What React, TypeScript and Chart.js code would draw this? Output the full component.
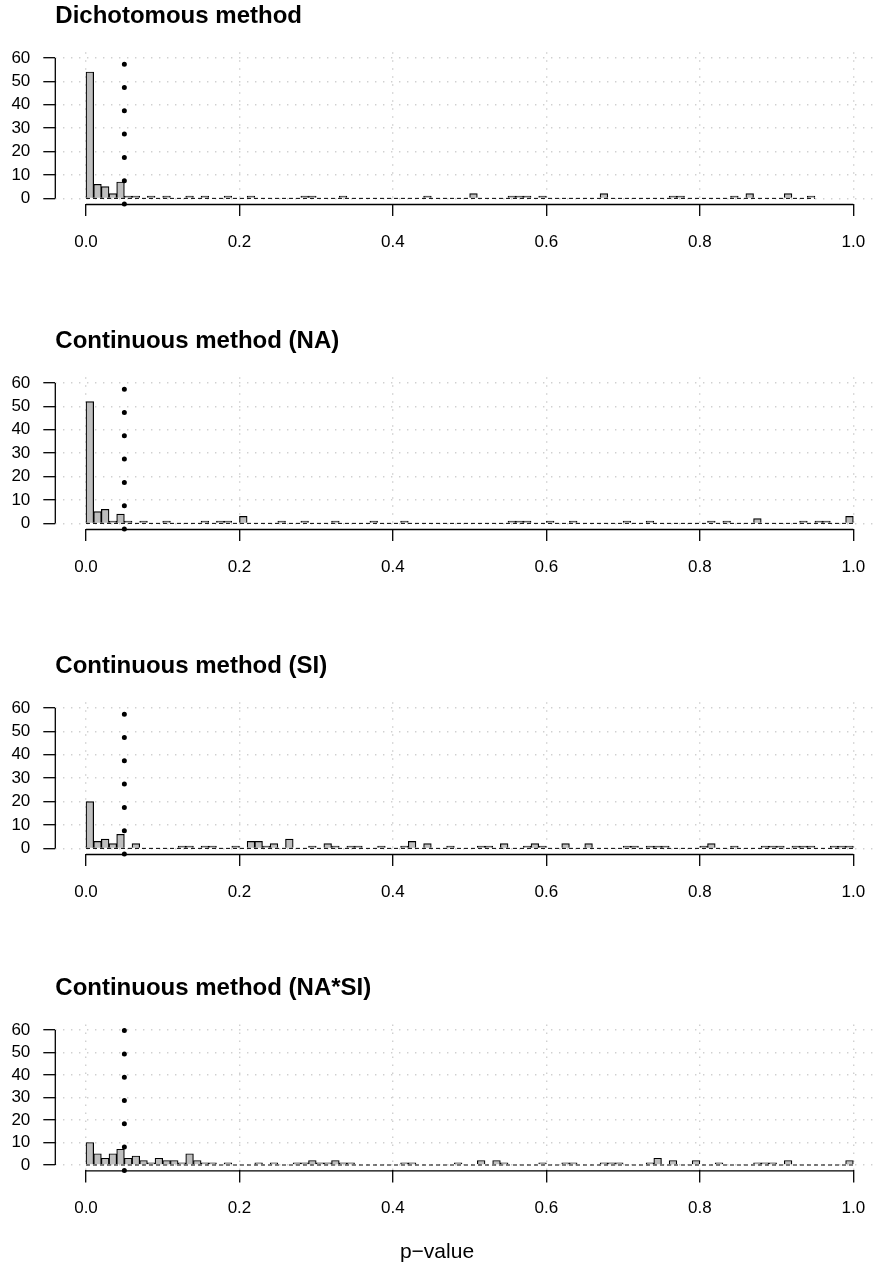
import React, { useEffect, useRef } from "react";
import { Chart, registerables } from "chart.js";

Chart.register(...registerables);

// ---------------- data ----------------
const BIN_WIDTH = 0.01; // histogram break width
const ALPHA = 0.05; // significance cut-off (dotted vertical line)
const X_MIN = -0.04;
const X_MAX = 1.04;
const Y_MIN = -2.4;
const Y_MAX = 62.4;
const X_TICKS = [0, 0.2, 0.4, 0.6, 0.8, 1.0];
const Y_TICKS = [0, 10, 20, 30, 40, 50, 60];
const X_AXIS_LABEL = "p\u2212value";

const PANEL_TITLES = [
  "Dichotomous method",
  "Continuous method (NA)",
  "Continuous method (SI)",
  "Continuous method (NA*SI)",
];

// counts per 0.01-wide bin, starting at p = 0
const COUNTS_DICHOTOMOUS = [
  54, 6, 5, 2, 7, 1, 1, 0, 1, 0,
  1, 0, 0, 1, 0, 1, 0, 0, 1, 0,
  0, 1, 0, 0, 0, 0, 0, 0, 1, 1,
  0, 0, 0, 1, 0, 0, 0, 0, 0, 0,
  0, 0, 0, 0, 1, 0, 0, 0, 0, 0,
  2, 0, 0, 0, 0, 1, 1, 1, 0, 1,
  0, 0, 0, 0, 0, 0, 0, 2, 0, 0,
  0, 0, 0, 0, 0, 0, 1, 1, 0, 0,
  0, 0, 0, 0, 1, 0, 2, 0, 0, 0,
  0, 2, 0, 0, 1,
];

const COUNTS_NA = [
  52, 5, 6, 1, 4, 1, 0, 1, 0, 0,
  1, 0, 0, 0, 0, 1, 0, 1, 1, 0,
  3, 0, 0, 0, 0, 1, 0, 0, 1, 0,
  0, 0, 1, 0, 0, 0, 0, 1, 0, 0,
  0, 1, 0, 0, 0, 0, 0, 0, 0, 0,
  0, 0, 0, 0, 0, 1, 1, 1, 0, 0,
  1, 0, 0, 1, 0, 0, 0, 0, 0, 0,
  1, 0, 0, 1, 0, 0, 0, 0, 0, 0,
  0, 1, 0, 1, 0, 0, 0, 2, 0, 0,
  0, 0, 0, 1, 0, 1, 1, 0, 0, 3,
];

const COUNTS_SI = [
  20, 3, 4, 2, 6, 0, 2, 0, 0, 0,
  0, 0, 1, 1, 0, 1, 1, 0, 0, 1,
  0, 3, 3, 1, 2, 0, 4, 0, 0, 1,
  0, 2, 1, 0, 1, 1, 0, 0, 1, 0,
  0, 1, 3, 0, 2, 0, 0, 1, 0, 0,
  0, 1, 1, 0, 2, 0, 0, 1, 2, 1,
  0, 0, 2, 0, 0, 2, 0, 0, 0, 0,
  1, 1, 0, 1, 1, 1, 0, 0, 0, 0,
  1, 2, 0, 0, 1, 0, 0, 0, 1, 1,
  1, 0, 1, 1, 1, 0, 0, 1, 1, 1,
];

const COUNTS_NA_SI = [
  10, 5, 3, 5, 7, 3, 4, 2, 1, 3,
  2, 2, 1, 5, 2, 1, 1, 0, 1, 0,
  0, 0, 1, 0, 1, 0, 0, 1, 1, 2,
  1, 1, 2, 1, 1, 0, 0, 0, 0, 0,
  0, 1, 1, 0, 0, 0, 0, 0, 1, 0,
  0, 2, 0, 2, 1, 0, 0, 0, 0, 1,
  0, 0, 1, 1, 0, 0, 0, 1, 1, 1,
  0, 0, 0, 1, 3, 0, 2, 0, 0, 2,
  0, 0, 1, 0, 0, 0, 0, 1, 1, 1,
  0, 2, 0, 0, 0, 0, 0, 0, 0, 2,
];

const PANEL_COUNTS = [COUNTS_DICHOTOMOUS, COUNTS_NA, COUNTS_SI, COUNTS_NA_SI];

// ---------------- layout / style ----------------
const FONT = "'Liberation Sans', Arial, Helvetica, sans-serif";
const CANVAS_W = 884;
const Y_AXIS_W = 55.3;
const PANELS_LAYOUT = [
  { top: 0, height: 325, plotTop: 52.3, plotBottom: 204 },
  { top: 325, height: 325, plotTop: 52.3, plotBottom: 204 },
  { top: 650, height: 325, plotTop: 52.3, plotBottom: 204 },
  { top: 975, height: 294, plotTop: 49.6, plotBottom: 195.4 },
];

const rStylePlugin = {
  id: "rStyle",
  afterDatasetsDraw(chart: any, _args: any, opts: any) {
    const { ctx } = chart;
    const x = chart.scales.x;
    const y = chart.scales.y;
    const y0 = y.getPixelForValue(0);
    ctx.save();
    ctx.strokeStyle = "#000";
    ctx.lineWidth = 1;
    ctx.setLineDash([4, 3]);
    ctx.beginPath();
    ctx.moveTo(x.getPixelForValue(0), y0);
    ctx.lineTo(x.getPixelForValue(opts.nBins * BIN_WIDTH), y0);
    ctx.stroke();
    ctx.restore();
  },
  afterDraw(chart: any, _args: any, opts: any) {
    const { ctx, chartArea } = chart;
    const x = chart.scales.x;
    const y = chart.scales.y;
    ctx.save();
    ctx.strokeStyle = "#000";
    ctx.lineWidth = 1.3;
    ctx.setLineDash([]);
    // x axis line (0..1)
    const xb = chartArea.bottom + 0.5;
    ctx.beginPath();
    ctx.moveTo(x.getPixelForValue(X_TICKS[0]), xb);
    ctx.lineTo(x.getPixelForValue(X_TICKS[X_TICKS.length - 1]), xb);
    ctx.stroke();
    // y axis line (0..60)
    ctx.beginPath();
    ctx.moveTo(chartArea.left, y.getPixelForValue(Y_TICKS[0]));
    ctx.lineTo(chartArea.left, y.getPixelForValue(Y_TICKS[Y_TICKS.length - 1]));
    ctx.stroke();
    // title
    ctx.fillStyle = "#000";
    ctx.font = `bold 24px ${FONT}`;
    ctx.textAlign = "left";
    ctx.textBaseline = "middle";
    ctx.fillText(opts.title, chartArea.left, chartArea.top - 36);
    // x label (last panel)
    if (opts.xLabel) {
      ctx.font = `21px ${FONT}`;
      ctx.textAlign = "center";
      ctx.fillText(opts.xLabel, 437, chart.height - 17);
    }
    ctx.restore();
  },
};

function Panel({ index }: { index: number }) {
  const ref = useRef<HTMLCanvasElement | null>(null);
  const lay = PANELS_LAYOUT[index];
  const counts = PANEL_COUNTS[index];
  const isLast = index === PANELS_LAYOUT.length - 1;

  useEffect(() => {
    if (!ref.current) return;
    const bars = counts.map((c, i) => ({ x: (i + 0.5) * BIN_WIDTH, y: c }));
    const cutLine = [
      { x: ALPHA, y: Y_MIN },
      { x: ALPHA, y: Y_MAX },
    ];
    const xAxisH = lay.height - lay.plotBottom;
    const chart = new Chart(ref.current, {
      type: "bar",
      data: {
        datasets: [
          {
            type: "bar",
            data: bars,
            backgroundColor: "#bebebe",
            borderColor: "#000",
            borderWidth: 1.2,
            borderSkipped: "start",
            barPercentage: 1,
            categoryPercentage: 1,
            grouped: false,
            order: 1,
          } as any,
          {
            type: "line",
            data: cutLine,
            borderColor: "#000",
            borderWidth: 5,
            borderDash: [0, 23.3],
            borderCapStyle: "round",
            pointRadius: 0,
            fill: false,
            clip: false,
            order: -1,
          } as any,
        ],
      },
      options: {
        animation: false,
        responsive: true,
        maintainAspectRatio: false,
        devicePixelRatio: 1,
        events: [],
        layout: { padding: { top: lay.plotTop, left: 0, right: 0, bottom: 0 } },
        plugins: {
          legend: { display: false },
          tooltip: { enabled: false },
          title: { display: false },
          rStyle: { nBins: counts.length, title: PANEL_TITLES[index], xLabel: isLast ? X_AXIS_LABEL : "" },
        } as any,
        scales: {
          x: {
            type: "linear",
            min: X_MIN,
            max: X_MAX,
            offset: false,
            afterBuildTicks: (s: any) => {
              s.ticks = X_TICKS.map((v) => ({ value: v }));
            },
            afterFit: (s: any) => {
              s.height = xAxisH;
            },
            grid: {
              color: "#d0d0d0",
              lineWidth: 1.4,
              offset: false,
              drawTicks: true,
              tickLength: 12,
              tickColor: "#000",
              tickWidth: 1.3,
            },
            border: { display: false, dash: [1.4, 6.6] },
            ticks: {
              autoSkip: false,
              maxRotation: 0,
              padding: 16,
              color: "#000",
              font: { family: FONT, size: 17 },
              callback: (v: any) => Number(v).toFixed(1),
            },
          },
          y: {
            type: "linear",
            min: Y_MIN,
            max: Y_MAX,
            afterBuildTicks: (s: any) => {
              s.ticks = Y_TICKS.map((v) => ({ value: v }));
            },
            afterFit: (s: any) => {
              s.width = Y_AXIS_W;
            },
            grid: {
              color: "#d0d0d0",
              lineWidth: 1.4,
              drawTicks: true,
              tickLength: 12,
              tickColor: "#000",
              tickWidth: 1.3,
            },
            border: { display: false, dash: [1.4, 6.6] },
            ticks: {
              autoSkip: false,
              padding: 13,
              color: "#000",
              font: { family: FONT, size: 17 },
              callback: (v: any) => String(v),
            },
          },
        },
      },
      plugins: [rStylePlugin as any],
    });
    return () => chart.destroy();
  }, [index]);

  return (
    <div
      style={{
        position: "absolute",
        left: 0,
        top: lay.top,
        width: CANVAS_W,
        height: lay.height,
      }}
    >
      <canvas ref={ref} />
    </div>
  );
}

export default function App() {
  return (
    <div
      style={{
        position: "absolute",
        left: 0,
        top: 0,
        width: 874,
        height: 1269,
        overflow: "hidden",
        background: "#fff",
      }}
    >
      {PANELS_LAYOUT.map((_, i) => (
        <Panel key={i} index={i} />
      ))}
    </div>
  );
}
